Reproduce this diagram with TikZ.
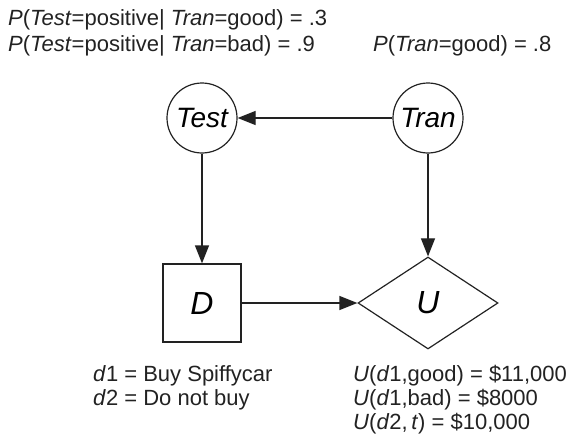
\documentclass[tikz,border=0pt]{standalone}
\usepackage{fontspec}
\setmainfont{Liberation Sans}
\usetikzlibrary{shapes.geometric, arrows.meta, positioning}
\definecolor{inkgray}{HTML}{222222}
\tikzset{
  chance/.style={
    circle, minimum size=70pt, inner sep=0pt,
    draw=inkgray, line width=1.2pt,
    font=\fontsize{28}{30}\selectfont\itshape,
  },
  decide/.style={
    rectangle, minimum width=78pt, minimum height=78pt,
    draw=inkgray, line width=1.2pt,
    font=\fontsize{32}{36}\selectfont\itshape,
  },
  utility/.style={
    diamond, minimum width=140pt, minimum height=92pt, inner sep=0pt,
    draw=inkgray, line width=1.2pt,
    font=\fontsize{32}{36}\selectfont\itshape,
  },
  arrow/.style={-{Triangle[length=18pt, width=14pt]}, line width=1.2pt, color=inkgray},
  note/.style={anchor=base west, inner sep=0pt, text=inkgray, font=\fontsize{22}{25}\selectfont},
}
\begin{document}
\begin{tikzpicture}[x=1pt, y=-1pt]
  \useasboundingbox (0,0) rectangle (567,436);

  \node[chance] (test) at (202,118) {Test};
  \node[chance, on grid, right=226pt of test] (tran) {Tran};
  \node[decide, on grid, below=185pt of test] (dec) {D};
  \node[utility, on grid, below=185pt of tran] (util) {U};

  \draw[arrow] (tran) -- (test);
  \draw[arrow] (test) -- (dec);
  \draw[arrow] (tran) -- (util);
  \draw[arrow] (dec) -- (util);

  % probability tables
  \node[note] (ptgood) at (8,26) {\textit{P}(\textit{Test}=positive|\ \textit{Tran}=good) = .3};
  \node[note] (ptbad) at (8,52) {\textit{P}(\textit{Test}=positive|\ \textit{Tran}=bad) = .9};
  \node[note] (ptran) at (373,52) {\textit{P}(\textit{Tran}=good) = .8};

  % decisions and utilities
  \node[note] (done) at (93,381) {\textit{d}1 = Buy Spiffycar};
  \node[note] (dtwo) at (93,405) {\textit{d}2 = Do not buy};
  \node[note] (ugood) at (353,381) {\textit{U}(\textit{d}1,good) = \$11,000};
  \node[note] (ubad) at (353,405) {\textit{U}(\textit{d}1,bad) = \$8000};
  \node[note] (unot) at (353,429) {\textit{U}(\textit{d}2,\,\textit{t}) = \$10,000};

\end{tikzpicture}
\end{document}
